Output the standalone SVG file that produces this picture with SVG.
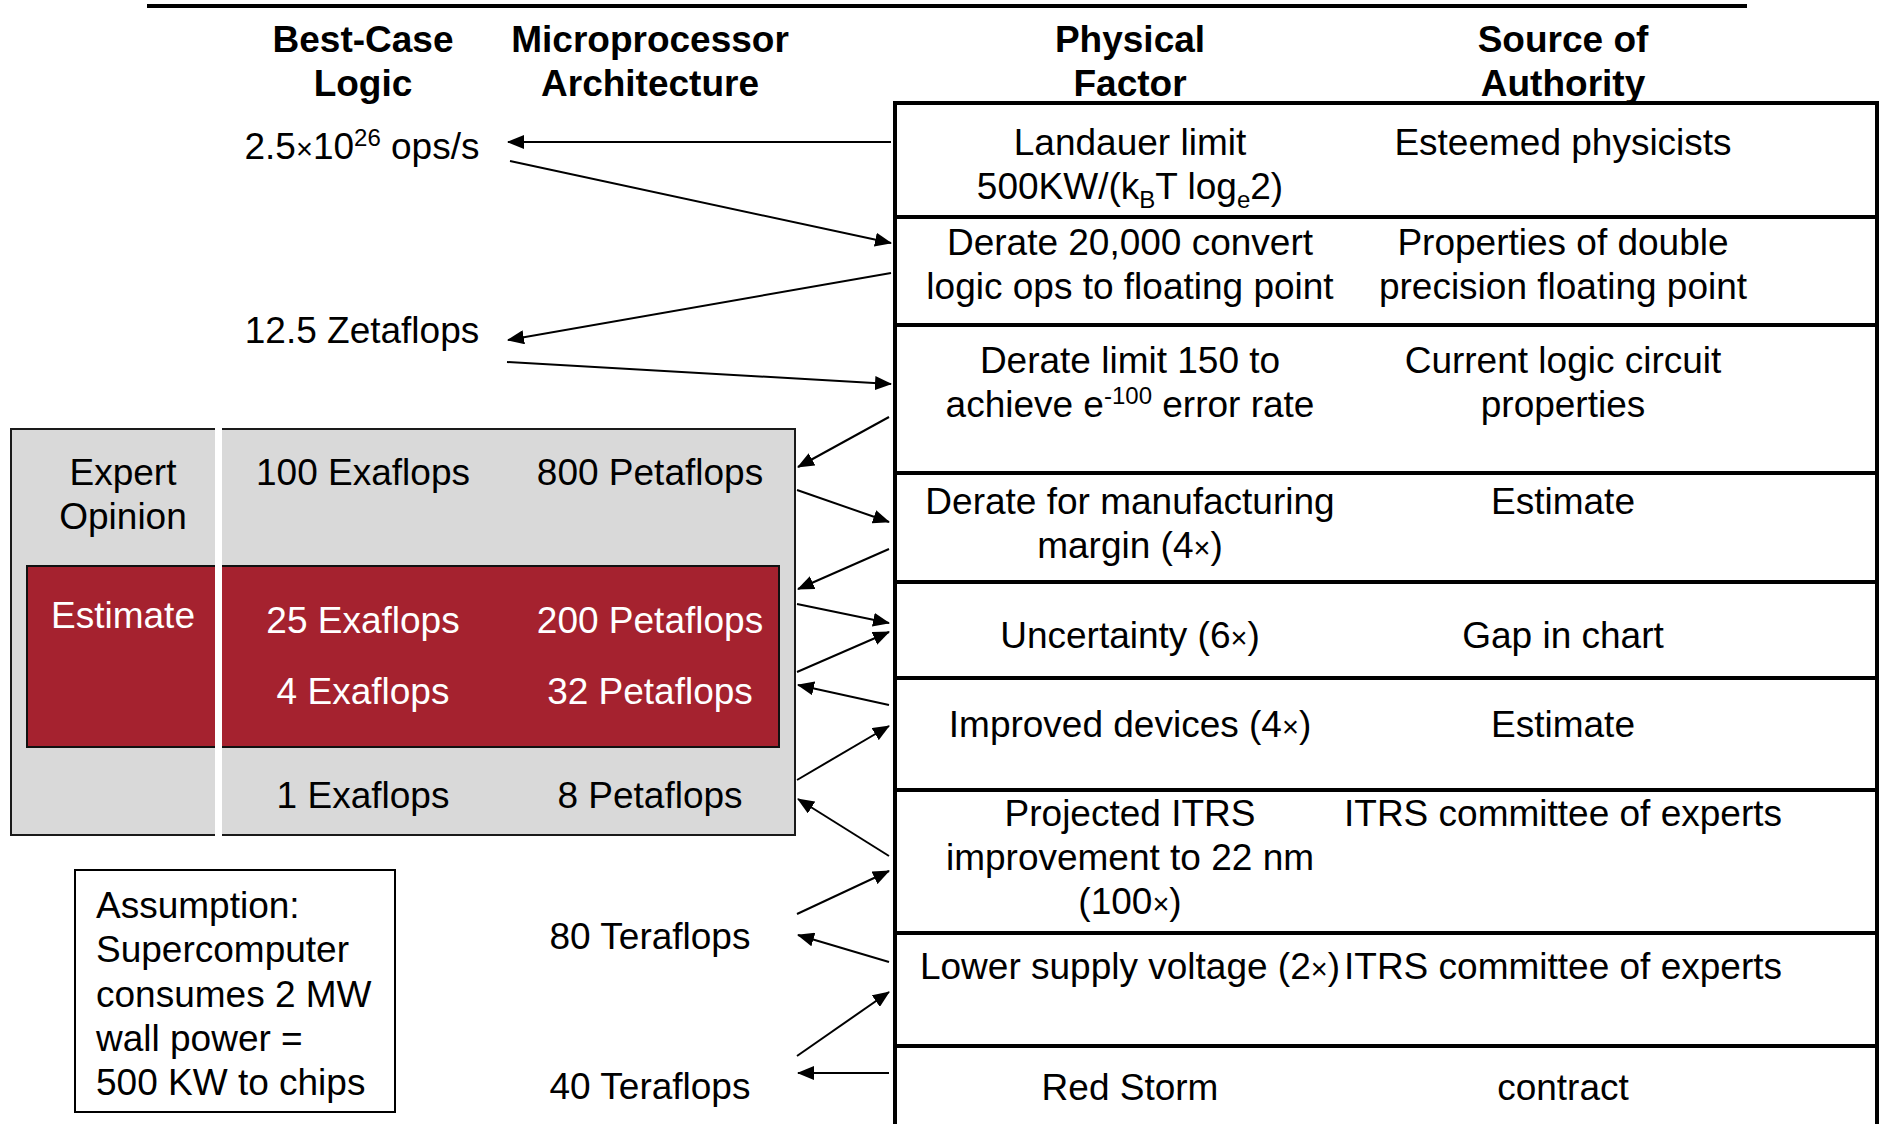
<svg xmlns="http://www.w3.org/2000/svg" width="1879" height="1124" viewBox="0 0 1879 1124">
<style>
text{font-family:"Liberation Sans",Arial,sans-serif;font-size:37px;fill:#000}
.h{font-weight:bold}
.c{text-anchor:middle}
.w{fill:#fff}
.sup{font-size:24px}
.x{font-size:29px}
.row{fill:#fff;stroke:#000;stroke-width:4}
.conn line{stroke:#000;stroke-width:2;marker-end:url(#ah)}
</style>
<defs>
<marker id="ah" markerWidth="17" markerHeight="14" refX="16" refY="7" orient="auto" markerUnits="userSpaceOnUse"><path d="M0,0 L17,7 L0,14 z" fill="#000"/></marker>
</defs>
<rect width="1879" height="1124" fill="#fff"/>
<line x1="147" y1="6" x2="1747" y2="6" stroke="#000" stroke-width="4"/>

<g id="headers">
<text class="h c" x="363" y="52">Best-Case<tspan x="363" dy="44">Logic</tspan></text>
<text class="h c" x="650" y="52">Microprocessor<tspan x="650" dy="44">Architecture</tspan></text>
<text class="h c" x="1130" y="52">Physical<tspan x="1130" dy="44">Factor</tspan></text>
<text class="h c" x="1563" y="52">Source of<tspan x="1563" dy="44">Authority</tspan></text>
</g>

<g id="n-ops"><text class="c" x="362" y="159">2.5<tspan class="x">×</tspan>10<tspan class="sup" dy="-13">26</tspan><tspan dy="13"> ops/s</tspan></text></g>
<g id="n-zeta"><text class="c" x="362" y="343">12.5 Zetaflops</text></g>

<g id="n-expert">
<rect x="11" y="429" width="784" height="406" fill="#d9d9d9" stroke="#1a1a1a" stroke-width="2"/>
<text class="c" x="123" y="485">Expert<tspan x="123" dy="44">Opinion</tspan></text>
<text class="c" x="363" y="485">100 Exaflops</text>
<text class="c" x="650" y="485">800 Petaflops</text>
<text class="c" x="363" y="808">1 Exaflops</text>
<text class="c" x="650" y="808">8 Petaflops</text>
</g>
<g id="n-estimate">
<rect x="27" y="566" width="752" height="181" fill="#a5222f" stroke="#111" stroke-width="2"/>
<text class="c w" x="123" y="628">Estimate</text>
<text class="c w" x="363" y="633">25 Exaflops</text>
<text class="c w" x="650" y="633">200 Petaflops</text>
<text class="c w" x="363" y="704">4 Exaflops</text>
<text class="c w" x="650" y="704">32 Petaflops</text>
</g>
<rect x="215" y="426" width="7" height="412" fill="#fff"/>

<g id="n-assumption">
<rect x="75" y="870" width="320" height="242" fill="#fff" stroke="#000" stroke-width="2"/>
<text x="96" y="918">Assumption:<tspan x="96" dy="44.3">Supercomputer</tspan><tspan x="96" dy="44.3">consumes 2 MW</tspan><tspan x="96" dy="44.3">wall power =</tspan><tspan x="96" dy="44.3">500 KW to chips</tspan></text>
</g>

<g id="n-80tf"><text class="c" x="650" y="949">80 Teraflops</text></g>
<g id="n-40tf"><text class="c" x="650" y="1099">40 Teraflops</text></g>

<g id="r1"><rect class="row" x="895" y="103" width="982" height="114"/>
<text class="c" x="1130" y="155">Landauer limit</text>
<text class="c" x="1130" y="199">500KW/(k<tspan class="sup" dy="9">B</tspan><tspan dy="-9">T log</tspan><tspan class="sup" dy="9">e</tspan><tspan dy="-9">2)</tspan></text>
<text class="c" x="1563" y="155">Esteemed physicists</text></g>

<g id="r2"><rect class="row" x="895" y="217" width="982" height="108"/>
<text class="c" x="1130" y="255">Derate 20,000 convert<tspan x="1130" dy="44">logic ops to floating point</tspan></text>
<text class="c" x="1563" y="255">Properties of double<tspan x="1563" dy="44">precision floating point</tspan></text></g>

<g id="r3"><rect class="row" x="895" y="325" width="982" height="148"/>
<text class="c" x="1130" y="373">Derate limit 150 to</text>
<text class="c" x="1130" y="417">achieve e<tspan class="sup" dy="-13">-100</tspan><tspan dy="13"> error rate</tspan></text>
<text class="c" x="1563" y="373">Current logic circuit<tspan x="1563" dy="44">properties</tspan></text></g>

<g id="r4"><rect class="row" x="895" y="473" width="982" height="109"/>
<text class="c" x="1130" y="514">Derate for manufacturing<tspan x="1130" dy="44">margin (4<tspan class="x">×</tspan>)</tspan></text>
<text class="c" x="1563" y="514">Estimate</text></g>

<g id="r5"><rect class="row" x="895" y="582" width="982" height="96"/>
<text class="c" x="1130" y="648">Uncertainty (6<tspan class="x">×</tspan>)</text>
<text class="c" x="1563" y="648">Gap in chart</text></g>

<g id="r6"><rect class="row" x="895" y="678" width="982" height="112"/>
<text class="c" x="1130" y="737">Improved devices (4<tspan class="x">×</tspan>)</text>
<text class="c" x="1563" y="737">Estimate</text></g>

<g id="r7"><rect class="row" x="895" y="790" width="982" height="143"/>
<text class="c" x="1130" y="826">Projected ITRS<tspan x="1130" dy="44">improvement to 22 nm</tspan><tspan x="1130" dy="44">(100<tspan class="x">×</tspan>)</tspan></text>
<text class="c" x="1563" y="826">ITRS committee of experts</text></g>

<g id="r8"><rect class="row" x="895" y="933" width="982" height="113"/>
<text class="c" x="1130" y="979">Lower supply voltage (2<tspan class="x">×</tspan>)</text>
<text class="c" x="1563" y="979">ITRS committee of experts</text></g>

<g id="r9"><rect class="row" x="895" y="1046" width="982" height="90"/>
<text class="c" x="1130" y="1100">Red Storm</text>
<text class="c" x="1563" y="1100">contract</text></g>

<g id="connectors" class="conn">
<line x1="891" y1="142" x2="508" y2="142"/>
<line x1="510" y1="161" x2="891" y2="243"/>
<line x1="891" y1="273" x2="508" y2="340"/>
<line x1="507" y1="362" x2="891" y2="384"/>
<line x1="889" y1="417" x2="798" y2="467"/>
<line x1="797" y1="490" x2="889" y2="522"/>
<line x1="889" y1="549" x2="798" y2="589"/>
<line x1="797" y1="604" x2="889" y2="623"/>
<line x1="797" y1="672" x2="889" y2="632"/>
<line x1="889" y1="705" x2="798" y2="685"/>
<line x1="797" y1="780" x2="889" y2="726"/>
<line x1="889" y1="856" x2="798" y2="799"/>
<line x1="797" y1="914" x2="889" y2="871"/>
<line x1="889" y1="962" x2="798" y2="935"/>
<line x1="797" y1="1056" x2="889" y2="992"/>
<line x1="889" y1="1073" x2="798" y2="1073"/>
</g>
</svg>
